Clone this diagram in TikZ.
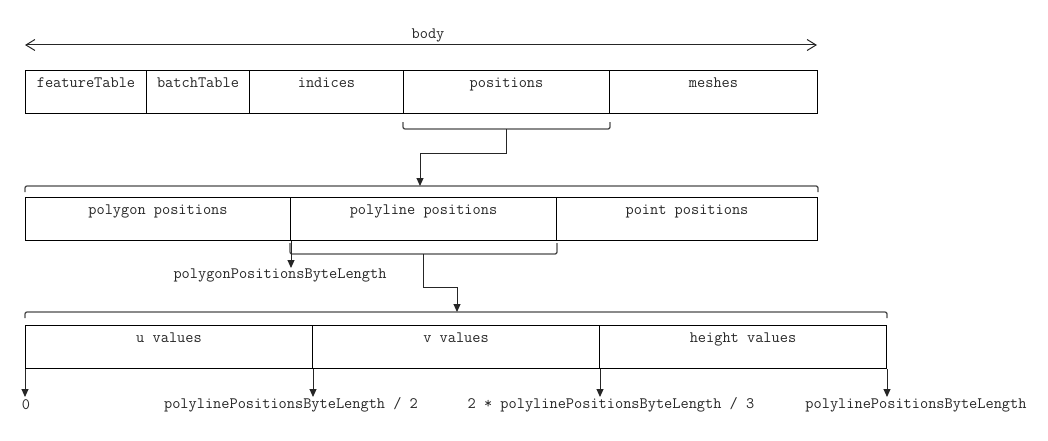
\documentclass[tikz,border=0pt]{standalone}
\usetikzlibrary{arrows.meta,calc}
\begin{document}
\begin{tikzpicture}[x=1pt,y=-1pt,
  every node/.style={font=\ttfamily\fontsize{15.9}{18}\selectfont, text=black!85},
  cell/.style={draw=black, line width=1pt, inner sep=0pt, minimum height=43pt,
    text height=17pt, text depth=26pt, anchor=north west},
  brace/.style={draw=black!70, line width=1.3pt, rounded corners=2pt},
  conn/.style={draw=black!85, line width=1pt, -{Triangle[width=7pt,length=8pt]}},
  span/.style={draw=black!85, line width=1pt,
    {Straight Barb[length=9pt,width=11pt]}-{Straight Barb[length=9pt,width=11pt]}},
  lbl/.style={inner sep=0pt}
]
\useasboundingbox (0,0) rectangle (1048,441);

% overall extent
\coordinate (bodyL) at (25,45);
\coordinate (bodyR) at (817,45);
\draw[span] (bodyL) -- (bodyR);
\node[lbl] (body) at (428,35) {body};

% top level layout
\node[cell, minimum width=121pt] (ft)  at (25,70)  {featureTable};
\node[cell, minimum width=103pt] (bt)  at (146,70) {batchTable};
\node[cell, minimum width=154pt] (ind) at (249,70) {indices};
\node[cell, minimum width=206pt] (pos) at (403,70) {positions};
\node[cell, minimum width=208pt] (msh) at (609,70) {meshes};

% positions breakdown
\node[cell, minimum width=265pt] (pg) at (25,197)  {polygon positions};
\node[cell, minimum width=266pt] (pl) at (290,197) {polyline positions};
\node[cell, minimum width=261pt] (pt) at (556,197) {point positions};

% polyline breakdown
\node[cell, minimum width=287pt] (uv) at (25,325)  {u values};
\node[cell, minimum width=287pt] (vv) at (312,325) {v values};
\node[cell, minimum width=287pt] (hv) at (599,325) {height values};

% brace under positions and its link to the next row
\draw[brace] ($(pos.south west)+(0,8)$) |- ($(pos.south)+(0,15)$) -| ($(pos.south east)+(0,8)$);
\coordinate (b1) at ($(pos.south)+(0,15)$);
\coordinate (b2) at (420,186);
\draw[brace] ($(pg.north west)+(0,-5)$) |- (b2) -| ($(pt.north east)+(0,-5)$);
\draw[conn] (b1) -- ++(0,24) -| (b2);

% brace under polyline positions and its link to the bottom row
\draw[brace] ($(pl.south west)+(0,2)$) |- ($(pl.south)+(0,13)$) -| ($(pl.south east)+(0,2)$);
\coordinate (b3) at ($(pl.south)+(0,13)$);
\coordinate (b4) at (457,312);
\draw[brace] ($(uv.north west)+(0,-7)$) |- (b4) -| ($(hv.north east)+(0,-7)$);
\draw[conn] (b3) -- ++(0,33) -| (b4);

% polygon length marker
\node[lbl] (pgl) at (280,275) {polygonPositionsByteLength};
\draw[conn] (pg.south east) -- ++(0,27);

% offsets along the bottom row
\node[lbl] (o0) at (26,405) {0};
\node[lbl] (o1) at (291,405) {polylinePositionsByteLength / 2};
\node[lbl] (o2) at (611,405) {2 * polylinePositionsByteLength / 3};
\node[lbl] (o3) at (916,405) {polylinePositionsByteLength};
\draw[conn] (uv.south west) -- ++(0,28);
\draw[conn] (uv.south east) -- ++(0,28);
\draw[conn] (vv.south east) -- ++(0,28);
\draw[conn] (hv.south east) -- ++(0,28);
\end{tikzpicture}
\end{document}
